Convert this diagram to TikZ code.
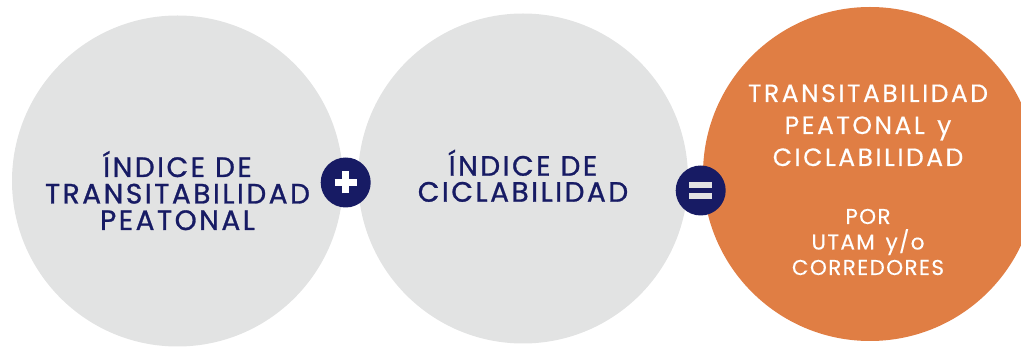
\documentclass[tikz,border=0pt]{standalone}
\usepackage{fontspec}
\setmainfont{Poppins}
\newfontfamily\fgris[LetterSpace=9,FakeBold=1]{Poppins}
\newfontfamily\fnar[LetterSpace=10,FakeBold=0.4]{Poppins}
\newfontfamily\fpor[LetterSpace=6.5,FakeBold=0.4]{Poppins}
\usepackage{tikz}
\usetikzlibrary{positioning}
\definecolor{grisc}{HTML}{E2E3E3}
\definecolor{naranja}{HTML}{E07E44}
\definecolor{azul}{HTML}{171B64}

\begin{document}
\begin{tikzpicture}[x=1pt,y=1pt, bigc/.style={circle,inner sep=0pt,draw=none},
		sgn/.style={circle,fill=azul,inner sep=0pt,minimum size=50pt},
		txt/.style={align=center,inner sep=0pt,anchor=base}]
	\useasboundingbox (0,0) rectangle (1021,348);
	\node[bigc,fill=grisc,minimum size=331pt] (0) at (177.5,167) {};
	\node[bigc,fill=grisc,minimum size=330pt] (1) at (523,169.5) {};
	\node[bigc,fill=naranja,minimum size=334pt] (2) at (870,174) {};
	\node[sgn] (3) at (345.7,165.5) {};
	\node[sgn] (4) at (700.7,157.5) {};
	\draw[white,line width=7pt] ([xshift=-11pt]3.center) -- ([xshift=11pt]3.center);
	\draw[white,line width=7pt] ([yshift=-11pt]3.center) -- ([yshift=11pt]3.center);
	\draw[grisc,line width=5.5pt] ([xshift=-11.5pt,yshift=5.3pt]4.center) -- ([xshift=11.5pt,yshift=5.3pt]4.center);
	\draw[grisc,line width=5.5pt] ([xshift=-11.5pt,yshift=-5.3pt]4.center) -- ([xshift=11.5pt,yshift=-5.3pt]4.center);
	% textos (base = ultima linea)
	\node[txt,text=azul,font=\fgris\fontsize{28}{26.5}\selectfont] (t0) at (177.5,118) {ÍNDICE DE\\TRANSITABILIDAD\\PEATONAL};
	\node[txt,text=azul,font=\fgris\fontsize{28}{26}\selectfont] (t1) at (523,146.3) {ÍNDICE DE\\CICLABILIDAD};
	\node[txt,text=white,font=\fnar\fontsize{25}{32}\selectfont] (t2) at (868,182) {TRANSITABILIDAD\\PEATONAL\enspace y\\CICLABILIDAD};
	\node[txt,text=white,font=\fpor\fontsize{21.5}{25.5}\selectfont] (t3) at (868,73) {POR\\UTAM\enspace y/o\\CORREDORES};
\end{tikzpicture}
\end{document}
